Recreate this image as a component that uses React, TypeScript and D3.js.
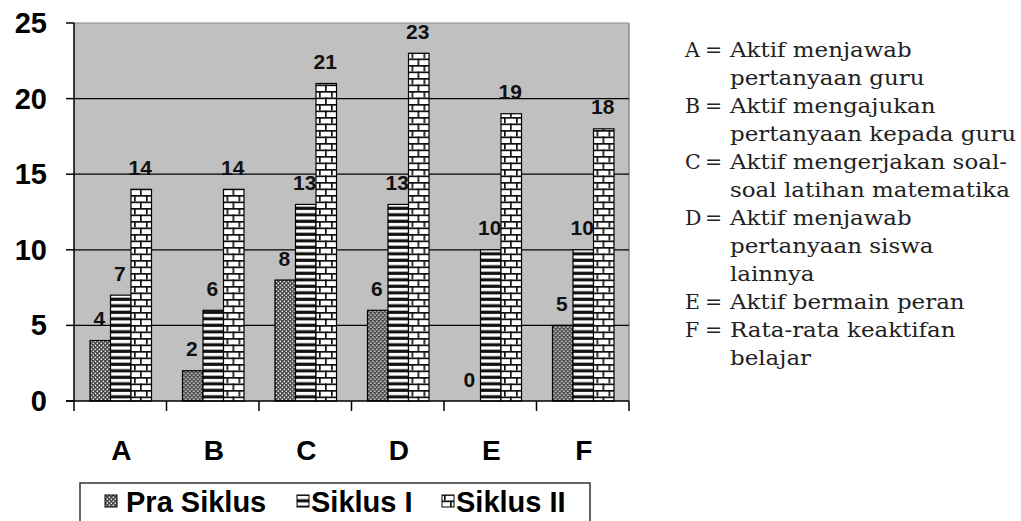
import React from "react";
import * as d3 from "d3";

const categories = ["A", "B", "C", "D", "E", "F"];
const seriesNames = ["Pra Siklus", "Siklus I", "Siklus II"];
const praSiklus = [4, 2, 8, 6, 0, 5];
const siklusI = [7, 6, 13, 13, 10, 10];
const siklusII = [14, 14, 21, 23, 19, 18];
const yTicks = [0, 5, 10, 15, 20, 25];
const descLines = [
  { key: "A", lines: ["Aktif menjawab", "pertanyaan guru"] },
  { key: "B", lines: ["Aktif mengajukan", "pertanyaan kepada guru"] },
  { key: "C", lines: ["Aktif mengerjakan soal-", "soal latihan matematika"] },
  { key: "D", lines: ["Aktif menjawab", "pertanyaan siswa", "lainnya"] },
  { key: "E", lines: ["Aktif bermain peran"] },
  { key: "F", lines: ["Rata-rata keaktifan", "belajar"] },
];

const seriesValues = [praSiklus, siklusI, siklusII];
const patternIds = ["patPra", "patS1", "patS2"];

const W = 1021;
const H = 521;
const plot = { left: 74, right: 629, top: 23, bottom: 401 };

export default function App() {
  const x0 = d3.scaleBand<string>().domain(categories).range([plot.left, plot.right]);
  const x1 = d3.scaleBand<string>().domain(seriesNames).range([16, 16 + 61.5]);
  const y = d3.scaleLinear().domain([0, 25]).range([plot.bottom, plot.top]);
  const font = "Arial, 'Liberation Sans', sans-serif";
  const serif = "'DejaVu Serif', serif";

  let row = 0;
  const descRows: { prefix?: string; text: string; row: number }[] = [];
  descLines.forEach((d) => {
    d.lines.forEach((t, i) => {
      descRows.push({ prefix: i === 0 ? d.key : undefined, text: t, row });
      row++;
    });
  });

  const legendItems = [
    { name: seriesNames[0], sx: 105, tx: 126 },
    { name: seriesNames[1], sx: 297, tx: 311 },
    { name: seriesNames[2], sx: 442, tx: 456 },
  ];

  return (
    <svg
      width={W}
      height={H}
      style={{ position: "absolute", left: 0, top: 0, background: "#fff" }}
    >
      <defs>
        <pattern id="patPra" patternUnits="userSpaceOnUse" width={4} height={4}>
          <rect width={4} height={4} fill="#333" />
          <rect x={0.5} y={0.5} width={1.6} height={1.6} fill="#e6e6e6" />
          <rect x={2.5} y={2.5} width={1.6} height={1.6} fill="#e6e6e6" />
          <rect x={2.5} y={0.5} width={1} height={1} fill="#888" />
          <rect x={0.5} y={2.5} width={1} height={1} fill="#888" />
        </pattern>
        <pattern id="patS1" patternUnits="userSpaceOnUse" width={8} height={6.5}>
          <rect width={8} height={6.5} fill="#111" />
          <rect x={0} y={1.9} width={8} height={3.3} fill="#fff" />
        </pattern>
        <pattern id="patS2" patternUnits="userSpaceOnUse" width={12} height={13}>
          <rect width={12} height={13} fill="#fff" />
          <rect x={0} y={0} width={12} height={1.7} fill="#111" />
          <rect x={0} y={6.5} width={12} height={1.7} fill="#111" />
          <rect x={0} y={0} width={1.7} height={6.5} fill="#111" />
          <rect x={6} y={6.5} width={1.7} height={6.5} fill="#111" />
        </pattern>
      </defs>

      <rect
        x={plot.left}
        y={plot.top}
        width={plot.right - plot.left}
        height={plot.bottom - plot.top}
        fill="#c0c0c0"
      />
      <line x1={plot.left} x2={plot.right} y1={plot.top} y2={plot.top} stroke="#8a8a8a" strokeWidth={1} />
      <line x1={plot.right} x2={plot.right} y1={plot.top} y2={plot.bottom} stroke="#8a8a8a" strokeWidth={1.5} />

      {yTicks
        .filter((t) => t > 0 && t < 25)
        .map((t) => (
          <line key={t} x1={plot.left} x2={plot.right} y1={y(t)} y2={y(t)} stroke="#000" strokeWidth={1.2} />
        ))}

      {categories.map((c, ci) => (
        <g key={c} transform={`translate(${x0(c)},0)`}>
          {seriesNames.map((s, si) => {
            const v = seriesValues[si][ci];
            const bx = x1(s)!;
            const bw = x1.bandwidth();
            return (
              <g key={s}>
                {v > 0 && (
                  <rect
                    x={bx}
                    y={y(v)}
                    width={bw}
                    height={y(0) - y(v)}
                    fill={`url(#${patternIds[si]})`}
                    stroke="#000"
                    strokeWidth={1.2}
                  />
                )}
                <text
                  x={bx + bw / 2 - 1}
                  y={y(v) - 14.5}
                  textAnchor="middle"
                  fontFamily={font}
                  fontWeight="bold"
                  fontSize={21}
                  fill="#111"
                >
                  {v}
                </text>
              </g>
            );
          })}
        </g>
      ))}

      <line x1={plot.left} x2={plot.left} y1={plot.top} y2={plot.bottom} stroke="#000" strokeWidth={1.5} />
      {yTicks.map((t) => (
        <g key={t}>
          <line x1={plot.left - 8} x2={plot.left} y1={y(t)} y2={y(t)} stroke="#000" strokeWidth={1.5} />
          <text
            x={47}
            y={y(t) + 10}
            textAnchor="end"
            fontFamily={font}
            fontWeight="bold"
            fontSize={29}
            fill="#000"
          >
            {t}
          </text>
        </g>
      ))}

      <line x1={plot.left - 8} x2={plot.right} y1={plot.bottom} y2={plot.bottom} stroke="#000" strokeWidth={1.5} />
      {[...categories.map((c) => x0(c)!), plot.right].map((px, i) => (
        <line key={i} x1={px} x2={px} y1={plot.bottom} y2={plot.bottom + 10} stroke="#000" strokeWidth={1.5} />
      ))}
      {categories.map((c) => (
        <text
          key={c}
          x={x0(c)! + x0.bandwidth() / 2 + 1}
          y={460}
          textAnchor="middle"
          fontFamily={font}
          fontWeight="bold"
          fontSize={28}
          fill="#000"
        >
          {c}
        </text>
      ))}

      <rect x={80} y={483} width={510} height={60} fill="#fff" stroke="#333" strokeWidth={1.5} />
      {legendItems.map((it, i) => (
        <g key={it.name}>
          <rect x={it.sx} y={495} width={12} height={12} fill={`url(#${patternIds[i]})`} stroke="#000" strokeWidth={1} />
          <text x={it.tx} y={512} fontFamily={font} fontWeight="bold" fontSize={29} fill="#000">
            {it.name}
          </text>
        </g>
      ))}

      {descRows.map((r, i) => (
        <g key={i}>
          {r.prefix && (
            <g>
              <text x={685} y={57 + r.row * 28} fontFamily={serif} fontSize={20.5} fill="#222">
                {r.prefix}
              </text>
              <text x={705} y={57 + r.row * 28} fontFamily={serif} fontSize={20.5} fill="#222">
                =
              </text>
            </g>
          )}
          <g transform={`translate(730,${57 + r.row * 28}) scale(1.12,1)`}>
            <text x={0} y={0} fontFamily={serif} fontSize={20.5} fill="#222">
              {r.text}
            </text>
          </g>
        </g>
      ))}
    </svg>
  );
}
